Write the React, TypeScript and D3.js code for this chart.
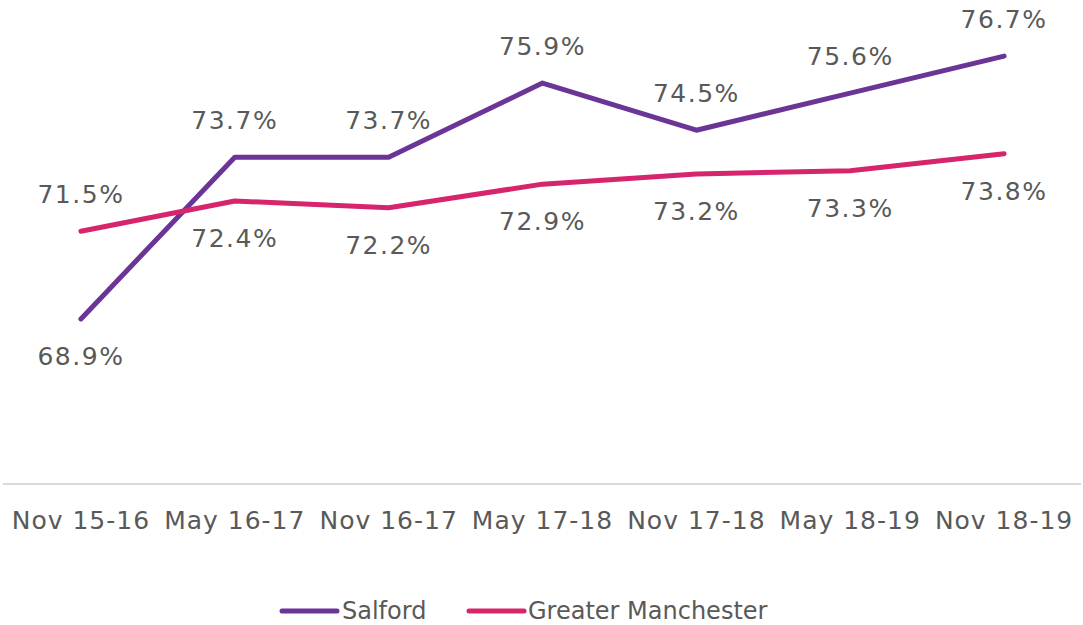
import React from "react";
import * as d3 from "d3";

const categories = ["Nov 15-16", "May 16-17", "Nov 16-17", "May 17-18", "Nov 17-18", "May 18-19", "Nov 18-19"];
const salford = [68.9, 73.7, 73.7, 75.9, 74.5, 75.6, 76.7];
const greaterManchester = [71.5, 72.4, 72.2, 72.9, 73.2, 73.3, 73.8];
// label placement: -1 above, +1 below
const salfordLabelPos = [1, -1, -1, -1, -1, -1, -1];
const gmLabelPos = [-1, 1, 1, 1, 1, 1, 1];

const W = 1083;
const H = 625;
const PURPLE = "#6a3596";
const PINK = "#d6246d";
const TEXT = "#595959";
const FONT = "'DejaVu Sans', Verdana, sans-serif";

export default function App() {
  const x = d3.scaleBand<string>().domain(categories).range([4, 1081]);
  const y = d3.scaleLinear().domain([64, 77]).range([484, 46]);
  const cx = (c: string) => (x(c) as number) + x.bandwidth() / 2;

  const line = d3
    .line<number>()
    .x((_, i) => cx(categories[i]))
    .y((d) => y(d));

  const series = [
    { name: "Salford", values: salford, color: PURPLE, pos: salfordLabelPos },
    { name: "Greater Manchester", values: greaterManchester, color: PINK, pos: gmLabelPos },
  ];

  const legendY = 610;

  return (
    <div style={{ position: "absolute", left: 0, top: 0 }}>
      <svg width={W} height={H} style={{ display: "block", background: "#fff" }}>
        <line x1={3} x2={1081} y1={484} y2={484} stroke="#d9d9d9" strokeWidth={2} />
        {series.map((s) => (
          <path
            key={s.name}
            d={line(s.values) || ""}
            fill="none"
            stroke={s.color}
            strokeWidth={5}
            strokeLinejoin="round"
            strokeLinecap="round"
          />
        ))}
        {series.map((s) =>
          s.values.map((v, i) => (
            <text
              key={s.name + i}
              x={cx(categories[i])}
              y={y(v) + s.pos[i] * 37}
              dy="0.36em"
              textAnchor="middle"
              fontFamily={FONT}
              fontSize={25}
              letterSpacing={1.5}
              fill={TEXT}
            >
              {v.toFixed(1)}%
            </text>
          ))
        )}
        {categories.map((c) => (
          <text
            key={c}
            x={cx(c)}
            y={520}
            dy="0.36em"
            textAnchor="middle"
            fontFamily={FONT}
            fontSize={25}
            letterSpacing={1}
            fill={TEXT}
          >
            {c}
          </text>
        ))}
        <g>
          <line x1={282} x2={337} y1={legendY + 1} y2={legendY + 1} stroke={PURPLE} strokeWidth={5} strokeLinecap="round" />
          <text x={342} y={legendY} dy="0.36em" fontFamily={FONT} fontSize={24} fill={TEXT}>
            Salford
          </text>
          <line x1={469} x2={524} y1={legendY + 1} y2={legendY + 1} stroke={PINK} strokeWidth={5} strokeLinecap="round" />
          <text x={528} y={legendY} dy="0.36em" fontFamily={FONT} fontSize={24} fill={TEXT}>
            Greater Manchester
          </text>
        </g>
      </svg>
    </div>
  );
}
